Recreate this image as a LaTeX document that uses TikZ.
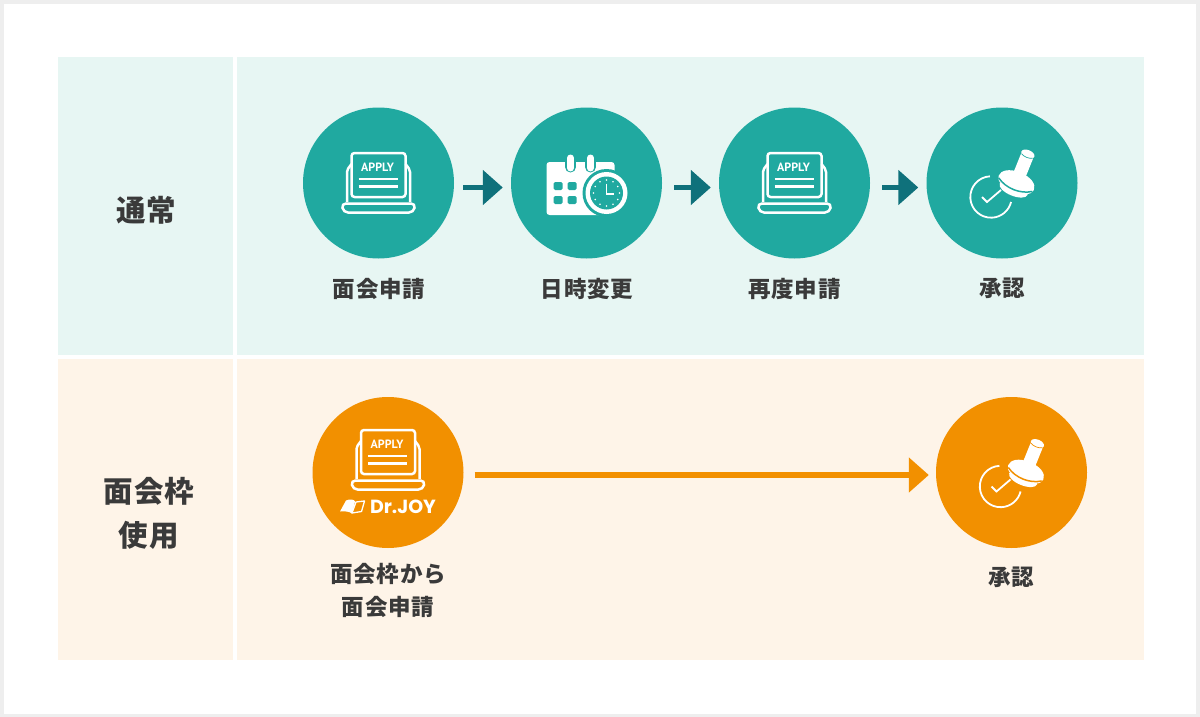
\documentclass[tikz,border=0pt]{standalone}
\usepackage{fontspec}
\usetikzlibrary{arrows.meta}
\newfontfamily\jp[LetterSpace=3.5]{Noto Sans CJK JP}
\newfontfamily\ptsans{PT Sans}
\newfontfamily\pop{Poppins}
\definecolor{tealc}{HTML}{20A9A0}
\definecolor{orangec}{HTML}{F29000}
\definecolor{tealbg}{HTML}{E7F6F3}
\definecolor{orangebg}{HTML}{FEF4E8}
\definecolor{arrowteal}{HTML}{0F717B}
\definecolor{txt}{HTML}{3A3A3A}
\definecolor{edge}{HTML}{EEEEEE}
\tikzset{
  x=1pt,y=-1pt,
  panel/.style={fill=#1,draw=none},
  disc/.style={circle,fill=#1,draw=none,minimum size=151pt,inner sep=0pt},
  lbl/.style={font=\jp\bfseries\fontsize{22.5}{33.5}\selectfont,text=txt,align=center,inner sep=0pt},
  head/.style={font=\jp\bfseries\fontsize{29.5}{44}\selectfont,text=txt,align=center,inner sep=0pt},
  stepa/.style={draw=arrowteal,line width=5.5pt,-{Triangle[length=20pt,width=34pt]}},
  stepo/.style={draw=orangec,line width=6pt,-{Triangle[length=20pt,width=34pt]}},
  wline/.style={draw=white,line width=2.5pt},
  pics/laptopicon/.style={code={
    \draw[wline,rounded corners=2pt] (-31.5,19) -- (-31.5,-13) -- (-27,-19);
    \draw[wline,rounded corners=2pt] (31.5,19) -- (31.5,-13) -- (27,-19);
    \draw[wline,rounded corners=3pt] (-27,-30) rectangle (27,14);
    \draw[wline,rounded corners=4.5pt] (-37,20.5) -- (37,20.5) -- (35,29.5) -- (-35,29.5) -- cycle;
    \draw[wline] (-20,-4) -- (19,-4) (-20,3.7) -- (19,3.7);
    \node[text=white,inner sep=0pt,font=\ptsans\bfseries\fontsize{12}{12}\selectfont] (-apply) at (-1,-16) {APPLY};
  }},
  pics/calicon/.style={code={
    \fill[white,rounded corners=3pt] (-40,-21) rectangle (28,32);
    \foreach \rx in {-16,4}{
      \draw[line width=11pt,draw=#1,line cap=round] (\rx,-24) -- (\rx,-16);
      \draw[line width=7pt,draw=white,line cap=round] (\rx,-25) -- (\rx,-15);
    }
    \foreach \gx in {-33,-19}\foreach \gy in {-1,13}{
      \fill[#1,rounded corners=1.5pt] (\gx,\gy) rectangle +(9,8);
    }
    \fill[#1] (20,10) circle[radius=24pt];
    \fill[white] (20,10) circle[radius=21pt];
    \fill[#1] (20,10) circle[radius=16.5pt];
    \foreach \t in {0,30,...,330}{
      \fill[white] (20,10) ++(\t:13pt) circle[radius=0.9pt];
    }
    \draw[white,line width=1.8pt] (20,0.5) -- (20,11) -- (27,11);
  }},
  pics/stampicon/.style={code={
    \draw[white,line width=1.8pt] (-11,14) ++(93:20.7pt) arc[start angle=93,end angle=346,radius=20.7pt];
    \draw[white,line width=1.8pt] (-20,14) -- (-15,19) -- (-1,7);
    \begin{scope}[shift={(15,-2)},rotate=-22]
      \fill[white,rounded corners=2pt] (-6.5,-28) rectangle (6.5,-2);
      \fill[white] (0,-29) ellipse[x radius=7pt,y radius=4pt];
      \fill[white] (-19,2) .. controls (-19,-4) and (-12,-9) .. (0,-9) .. controls (12,-9) and (19,-4) .. (19,2) .. controls (19,8) and (10,11) .. (0,11) .. controls (-10,11) and (-19,8) .. (-19,2) -- cycle;
      \fill[white] (0,9) ellipse[x radius=15pt,y radius=6.5pt];
      \draw[#1,line width=1.5pt] (-18,4) .. controls (-8,11) and (8,11) .. (18,4);
      \draw[#1,line width=0.7pt] (-6,-27) .. controls (-3,-25) and (3,-25) .. (6,-27);
    \end{scope}
  }},
  pics/joyicon/.style={code={
    \fill[white] (-48,39) -- (-42,28) .. controls (-38,26) and (-34,27) .. (-33,29) -- (-36,41) .. controls (-38,39) and (-44,38.5) .. (-48,39) -- cycle;
    \draw[white,line width=1.3pt,line join=round] (-32,29.5) -- (-23.5,28.5) -- (-26.5,39) -- (-36,40.5) -- cycle;
    \node[text=white,inner sep=0pt,font=\pop\bfseries\fontsize{19}{18}\selectfont] (-joy) at (15,34.5) {Dr.JOY};
  }}
}
\begin{document}
\begin{tikzpicture}
\useasboundingbox (0,0) rectangle (1200,717);
\fill[edge] (0,0) rectangle (1200,717);
\fill[white] (4,4) rectangle (1196,714);
\fill[panel=tealbg] (58,57) rectangle (233,355);
\fill[panel=tealbg] (237,57) rectangle (1144,355);
\fill[panel=orangebg] (58,359) rectangle (233,660);
\fill[panel=orangebg] (237,359) rectangle (1144,660);

\node[head] (tnormal) at (146.5,210) {通常};
\node[head] (tframe) at (149,513) {面会枠\\[0pt]使用};

\node[disc=tealc] (c1) at (378.5,183) {};
\node[disc=tealc] (c2) at (586.5,183) {};
\node[disc=tealc] (c3) at (794.5,183) {};
\node[disc=tealc] (c4) at (1002,183) {};
\node[disc=orangec] (o1) at (388,472.5) {};
\node[disc=orangec] (o2) at (1011.5,472.5) {};

\pic (la) at (c1) {laptopicon};
\pic (ca) at (c2) {calicon=tealc};
\pic (lb) at (c3) {laptopicon};
\pic (sa) at (c4) {stampicon=tealc};
\pic (lc) at ([yshift=12.5pt]o1) {laptopicon};
\pic (jy) at (o1) {joyicon};
\pic (sb) at (o2) {stampicon=orangec};

\draw[stepa,shorten <=9pt,shorten >=8pt] ([yshift=-4.5pt]c1.east) -- ([yshift=-4.5pt]c2.west);
\draw[stepa,shorten <=12pt,shorten >=8pt] ([yshift=-4.5pt]c2.east) -- ([yshift=-4.5pt]c3.west);
\draw[stepa,shorten <=12pt,shorten >=8pt] ([yshift=-4.5pt]c3.east) -- ([yshift=-4.5pt]c4.west);
\draw[stepo,shorten <=11pt,shorten >=7pt] ([yshift=-2.5pt]o1.east) -- ([yshift=-2.5pt]o2.west);

\node[lbl] (l1) at (379,288.5) {面会申請};
\node[lbl] (l2) at (587,288.5) {日時変更};
\node[lbl] (l3) at (794.5,288.5) {再度申請};
\node[lbl] (l4) at (1002.5,288.5) {承認};
\node[lbl] (l5) at (388,590.5) {面会枠から\\面会申請};
\node[lbl] (l6) at (1011.5,577.5) {承認};
\end{tikzpicture}
\end{document}
